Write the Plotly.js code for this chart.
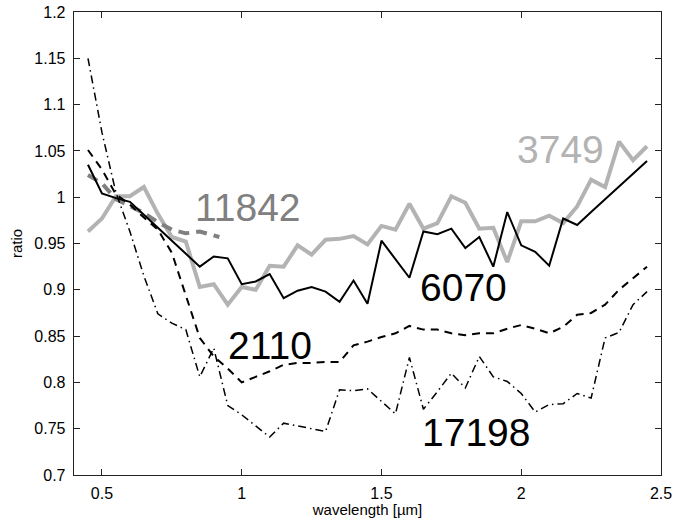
<!DOCTYPE html>
<html><head><meta charset="utf-8">
<script src="https://cdn.plot.ly/plotly-3.0.1.min.js"></script>
<style>html,body{margin:0;padding:0;background:#fff}#chart{width:694px;height:521px}</style>
</head><body><div id="chart"></div>
<script>
// wavelength grid (µm)
const wl = [0.45,0.50,0.55,0.60,0.65,0.70,0.75,0.80,0.85,0.90,0.95,1.00,1.05,1.10,1.15,1.20,1.25,1.30,1.35,1.40,1.45,1.50,1.55,1.60,1.65,1.70,1.75,1.80,1.85,1.90,1.95,2.00,2.05,2.10,2.15,2.20,2.25,2.30,2.35,2.40,2.45];
const wl11842 = [0.45,0.50,0.55,0.60,0.65,0.70,0.75,0.80,0.85,0.92];

const r3749 = [0.963,0.977,1.001,1.001,1.011,0.982,0.957,0.952,0.903,0.906,0.884,0.903,0.900,0.926,0.925,0.948,0.938,0.954,0.955,0.958,0.949,0.969,0.965,0.993,0.966,0.972,1.001,0.994,0.966,0.967,0.930,0.974,0.974,0.980,0.972,0.990,1.019,1.011,1.060,1.040,1.055];
const r11842 = [1.024,1.015,0.998,0.990,0.983,0.973,0.965,0.961,0.963,0.957];
const r6070 = [1.035,1.004,0.999,0.995,0.981,0.967,0.953,0.939,0.925,0.936,0.934,0.906,0.909,0.917,0.891,0.899,0.903,0.898,0.887,0.910,0.885,0.953,0.933,0.913,0.963,0.960,0.966,0.945,0.957,0.925,0.984,0.948,0.941,0.926,0.977,0.970,0.984,0.998,1.012,1.025,1.039];
const r2110 = [1.051,1.030,1.003,0.992,0.978,0.965,0.940,0.895,0.848,0.828,0.815,0.800,0.806,0.812,0.819,0.821,0.821,0.822,0.822,0.840,0.844,0.849,0.853,0.861,0.857,0.857,0.853,0.851,0.853,0.853,0.858,0.862,0.858,0.853,0.860,0.873,0.875,0.884,0.900,0.913,0.925];
const r17198 = [1.150,1.070,1.005,0.963,0.915,0.874,0.864,0.857,0.806,0.837,0.775,0.765,0.753,0.741,0.756,0.753,0.750,0.747,0.792,0.791,0.793,0.780,0.766,0.827,0.771,0.790,0.810,0.794,0.828,0.806,0.801,0.788,0.768,0.776,0.777,0.788,0.783,0.848,0.854,0.884,0.898];

const labels = ["3749","11842","6070","2110","17198"];
const labelX = [2.142,1.023,1.795,1.101,1.838];
const labelY = [1.051,0.989,0.902,0.840,0.746];
const labelColors = ["#b3b3b3","#808080","#000000","#000000","#000000"];

const traces = [
  {x: wl, y: r3749, mode:'lines', line:{color:'#b3b3b3', width:4}},
  {x: wl11842, y: r11842, mode:'lines', line:{color:'#808080', width:4, dash:'11px,7px'}},
  {x: wl, y: r6070, mode:'lines', line:{color:'#000000', width:2}},
  {x: wl, y: r2110, mode:'lines', line:{color:'#000000', width:2, dash:'8px,6px'}},
  {x: wl, y: r17198, mode:'lines', line:{color:'#000000', width:1.5, dash:'8px,4px,1.5px,4px'}}
];

const annotations = labels.map((t,i)=>({x:labelX[i], y:labelY[i], xref:'x', yref:'y', text:t, showarrow:false,
  font:{family:'Liberation Sans, Arial, sans-serif', size:39, color:labelColors[i]}}));

const yt = [0.7,0.75,0.8,0.85,0.9,0.95,1,1.05,1.1,1.15,1.2];
const xt = [0.5,1,1.5,2,2.5];

const layout = {
  width:694, height:521,
  margin:{l:74, r:33, t:12, b:46},
  paper_bgcolor:'#fff', plot_bgcolor:'#fff',
  showlegend:false,
  font:{family:'Liberation Sans, Arial, sans-serif', size:16, color:'#000'},
  xaxis:{range:[0.4,2.5], tickvals:xt, ticktext:xt.map(String), ticks:'inside', ticklen:6, tickcolor:'#222',
    showline:true, linecolor:'#222', linewidth:1.3, mirror:'ticks', showgrid:false, zeroline:false,
    ticklabelstandoff:3,
    title:{text:'wavelength [µm]', font:{size:15}, standoff:2}, tickfont:{size:16}},
  yaxis:{range:[0.7,1.2], tickvals:yt, ticktext:yt.map(String), ticks:'inside', ticklen:6, tickcolor:'#222',
    showline:true, linecolor:'#222', linewidth:1.3, mirror:'ticks', showgrid:false, zeroline:false,
    ticklabelstandoff:4,
    title:{text:'ratio', font:{size:15}, standoff:8}, tickfont:{size:16}},
  annotations: annotations
};
Plotly.newPlot('chart', traces, layout, {displayModeBar:false, staticPlot:true});
</script></body></html>
